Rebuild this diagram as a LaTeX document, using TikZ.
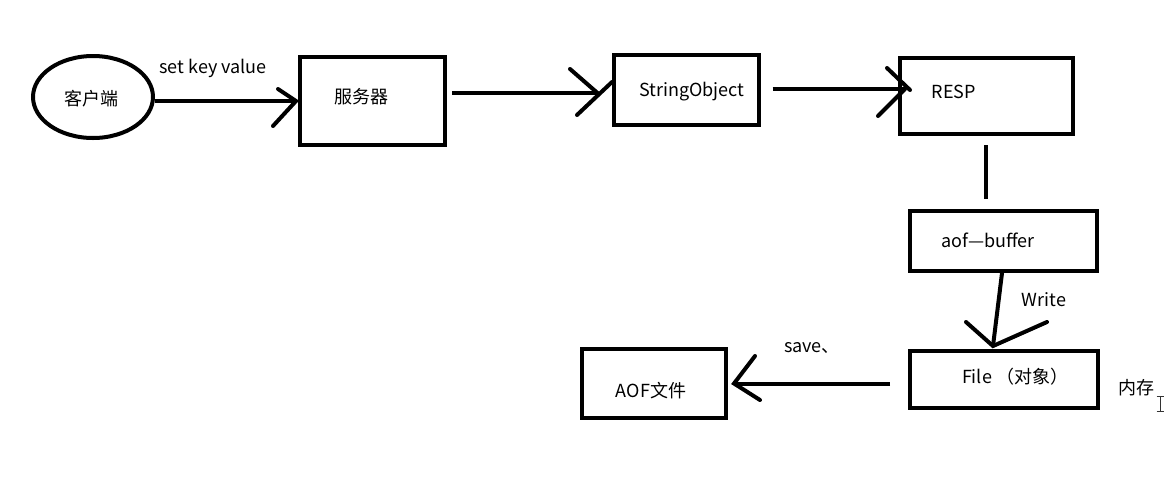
\documentclass[tikz,border=0pt]{standalone}
\usepackage{fontspec}
\setmainfont{Noto Sans CJK SC}
\usetikzlibrary{shapes.geometric}
\begin{document}
\begin{tikzpicture}[x=1pt,y=-1pt,
  box/.style={draw,line width=4pt,inner sep=0pt},
  shaft/.style={line width=4pt},
  arm/.style={line width=4pt,line cap=round},
  txt/.style={font=\fontsize{18}{21}\selectfont,inner sep=0pt}]
\useasboundingbox (0,0) rectangle (1174,493);
% boxes
\node[box,ellipse,minimum width=120pt,minimum height=82pt] (client) at (93,97) {};
\node[box,rectangle,minimum width=145pt,minimum height=88pt] (server) at (372.5,101) {};
\node[box,rectangle,minimum width=145pt,minimum height=70pt] (sobj) at (686,90) {};
\node[box,rectangle,minimum width=173pt,minimum height=76pt] (resp) at (986.5,96) {};
\node[box,rectangle,minimum width=187pt,minimum height=60pt] (buf) at (1003.5,241) {};
\node[box,rectangle,minimum width=188pt,minimum height=57pt] (file) at (1004,379.5) {};
\node[box,rectangle,minimum width=144pt,minimum height=69pt] (aof) at (654,383.5) {};
% texts
\node[txt] (tclient) at (91,99) {客户端};
\node[txt] (tserver) at (361,97) {服务器};
\node[txt] (tsobj) at (692,92) {StringObject};
\node[txt] (tresp) at (954,92) {RESP};
\node[txt] (tbuf) at (988,240) {aof—buffer};
\node[txt] (tfile) at (1015,377) {File （对象）};
\node[txt] (taof) at (651,391) {AOF文件};
\node[txt] (lset) at (213,68) {set key value};
\node[txt] (lwrite) at (1044,300) {Write};
\node[txt] (lsave) at (812,348) {save、};
\node[txt] (lmem) at (1136,388) {内存};
% connector 1
\coordinate (t1) at ([xshift=-2pt]server.west);
\draw[shaft] (client.east |- t1) -- (t1);
\draw[arm] (278,89) -- (t1) -- (273,126);
% connector 2
\coordinate (t2) at ([xshift=-14pt,yshift=-3pt]sobj.west);
\draw[shaft] ([xshift=5pt]server.east |- t2) -- (t2);
\draw[arm] (570,69) -- (t2);
\draw[arm] (577,115) -- (612,82);
% connector 3
\coordinate (t3) at ([xshift=7pt,yshift=7pt]resp.west);
\draw[shaft] ([xshift=12pt]sobj.east |- t3) -- (t3);
\draw[arm] (887,68) -- (910,90);
\draw[arm] (878,116) -- (t3);
% connector 4
\draw[shaft] ([xshift=-0.5pt,yshift=-9pt]resp.south) -- ([xshift=-0.5pt,yshift=10pt]resp.south |- buf.north);
% connector 5
\coordinate (t5) at ([xshift=-11pt,yshift=3pt]file.north);
\draw[shaft] ([xshift=-1.5pt]buf.south) -- (t5);
\draw[arm] (966,322) -- (t5) -- (1047,322);
% connector 6
\coordinate (t6) at ([xshift=6pt]aof.east);
\draw[shaft] ([xshift=-18pt]file.west |- t6) -- (t6);
\draw[arm] (755,356) -- (t6) -- (760,400);
% text cursor
\draw[line width=0.9pt,black!80] (1160,396) -- (1160,411) (1156.5,396) -- (1163.5,396) (1156.5,411) -- (1163.5,411);
\end{tikzpicture}
\end{document}
